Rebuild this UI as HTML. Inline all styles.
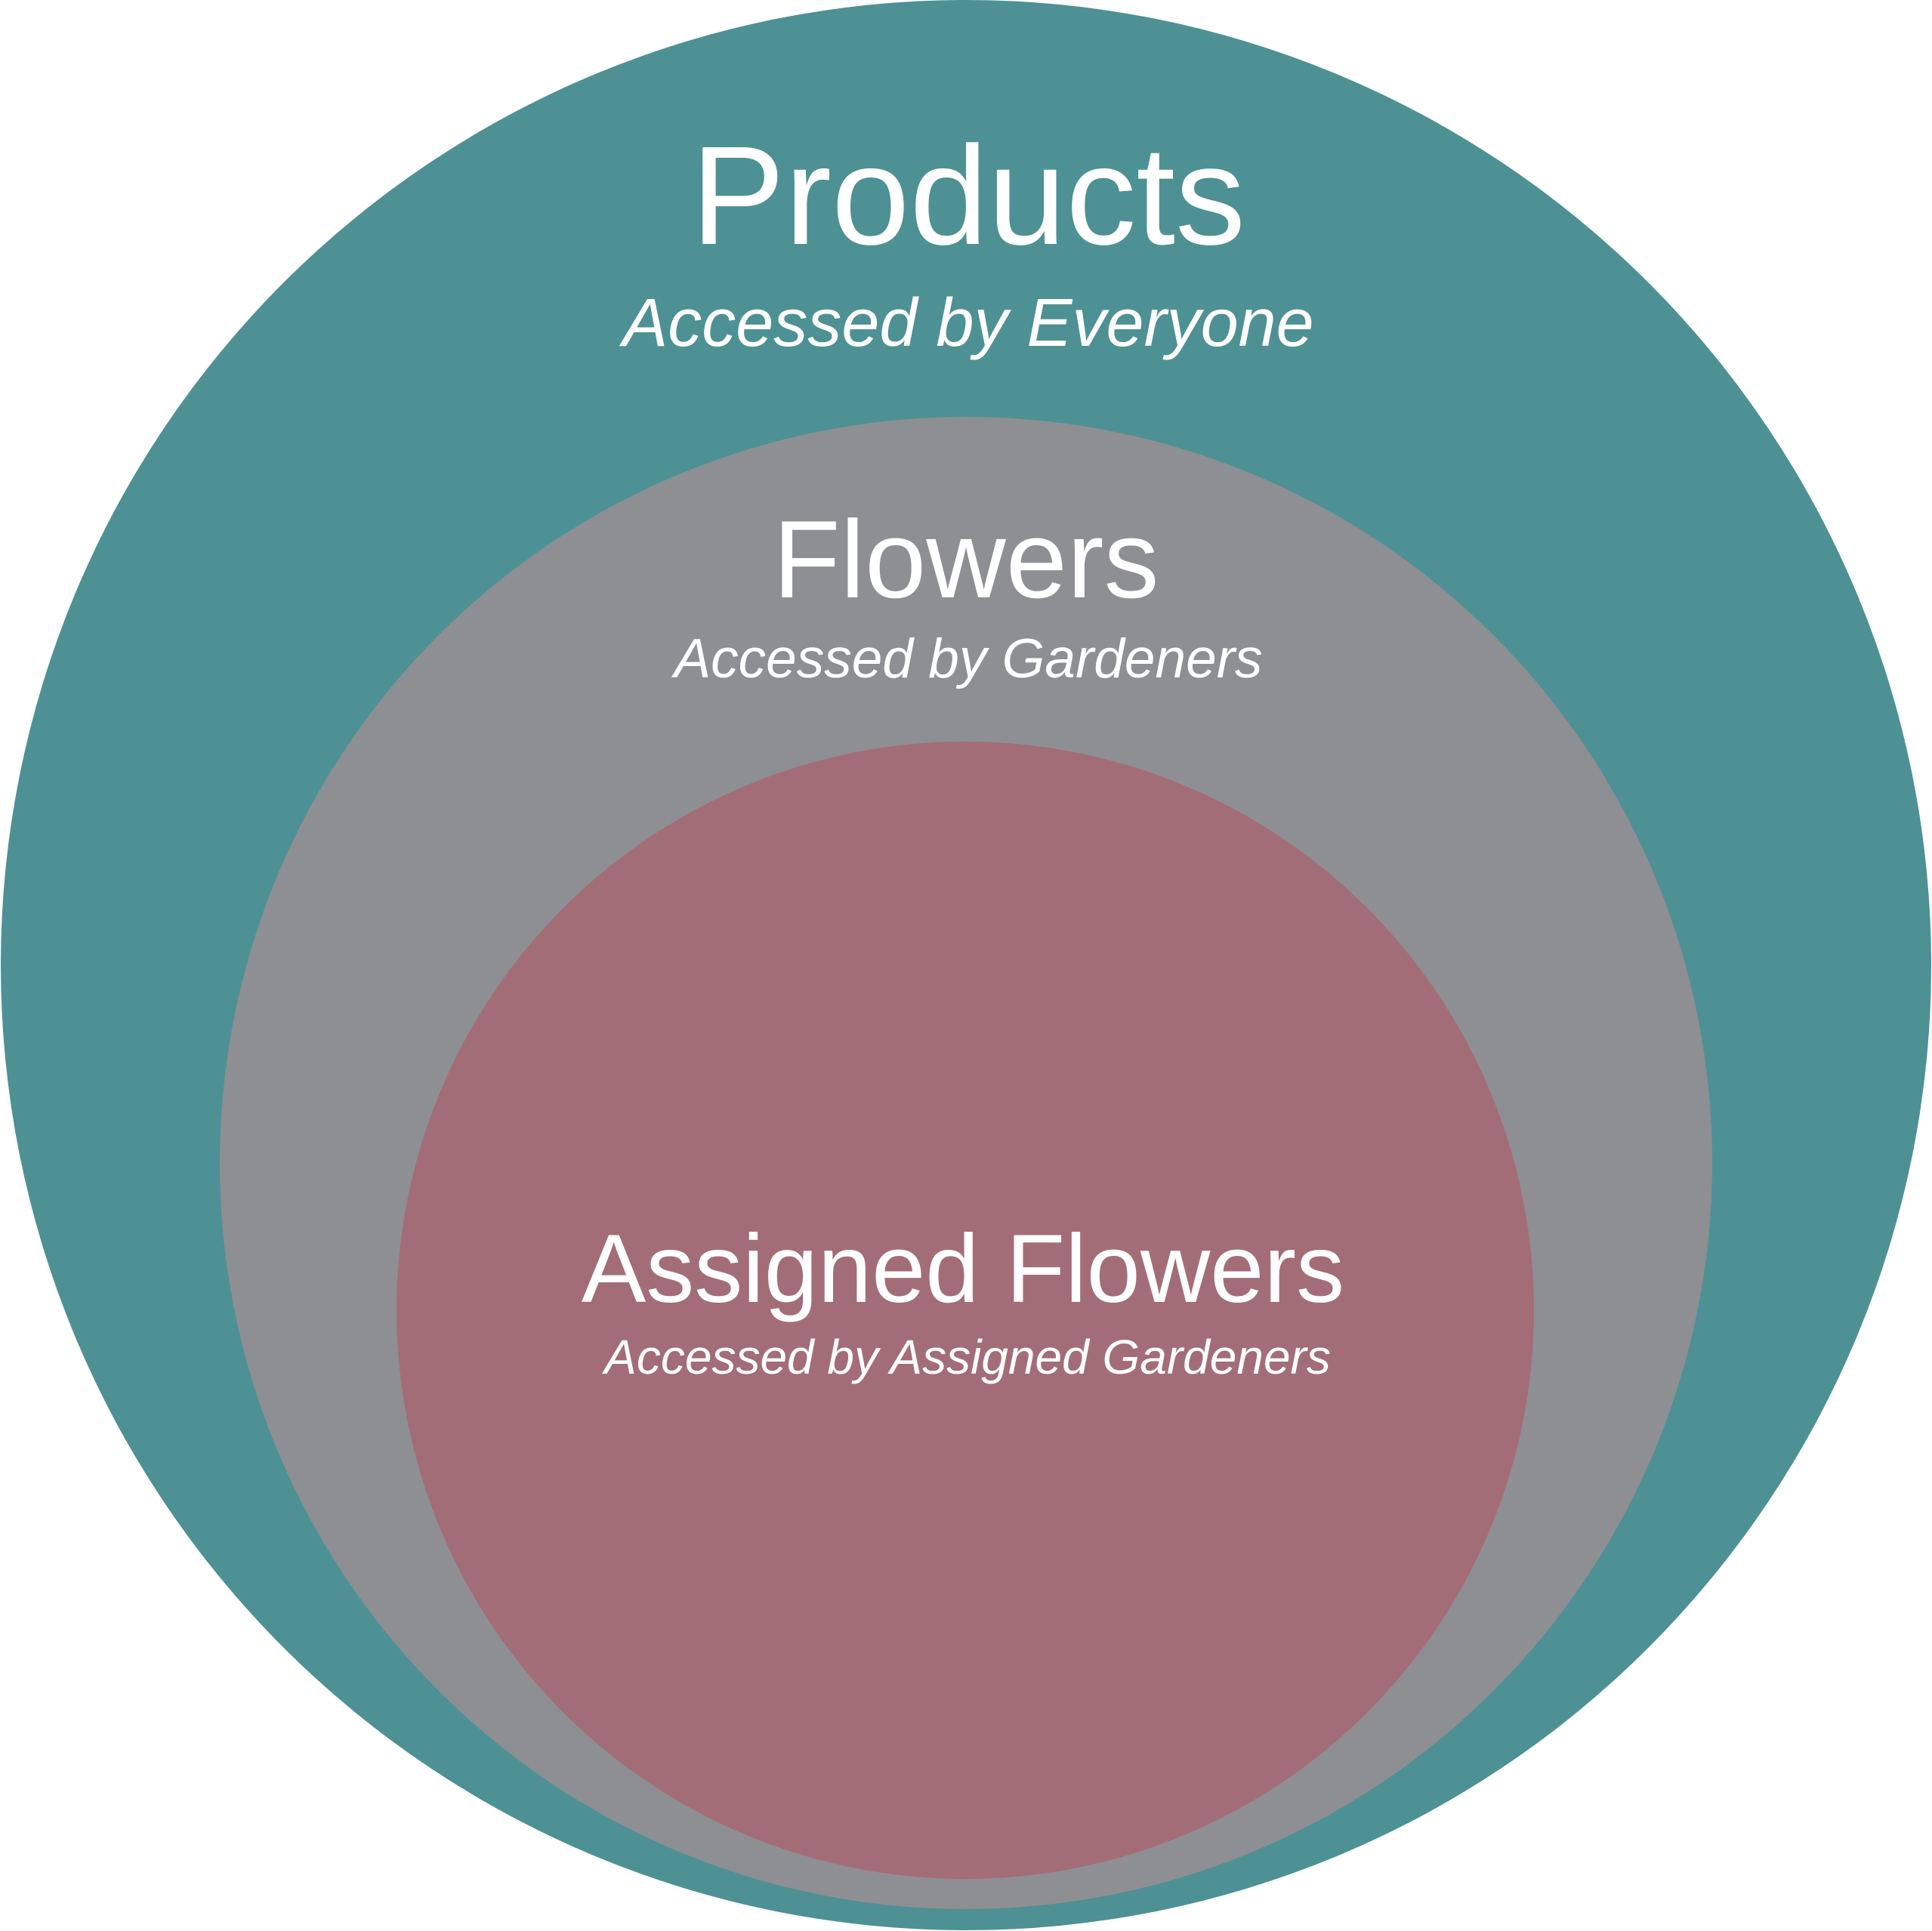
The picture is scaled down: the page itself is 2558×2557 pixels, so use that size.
<!DOCTYPE html>
<html><head><meta charset="utf-8"><style>html,body{margin:0;padding:0;background:#fff}svg{display:block}</style></head>
<body>
<svg width="2558" height="2557" viewBox="0 0 2558 2557" xmlns="http://www.w3.org/2000/svg">
<circle cx="1279" cy="1278" r="1278" fill="#4D9194"/>
<circle cx="1279" cy="1540" r="988" fill="#8E8F93"/>
<circle cx="1278" cy="1735" r="753" fill="#A36D77"/>
<g fill="#fff" font-family="Liberation Sans, sans-serif" text-anchor="middle">
<text x="1282" y="323" font-size="186">Products</text>
<text x="1282" y="458" font-size="90" font-style="italic">Accessed by Everyone</text>
<text x="1279" y="791" font-size="146">Flowers</text>
<text x="1282" y="897" font-size="73" font-style="italic">Accessed by Gardeners</text>
<text x="1275" y="1724" font-size="128">Assigned Flowers</text>
<text x="1281" y="1819" font-size="64" font-style="italic">Accessed by Assigned Gardeners</text>
</g>
</svg>
</body></html>
